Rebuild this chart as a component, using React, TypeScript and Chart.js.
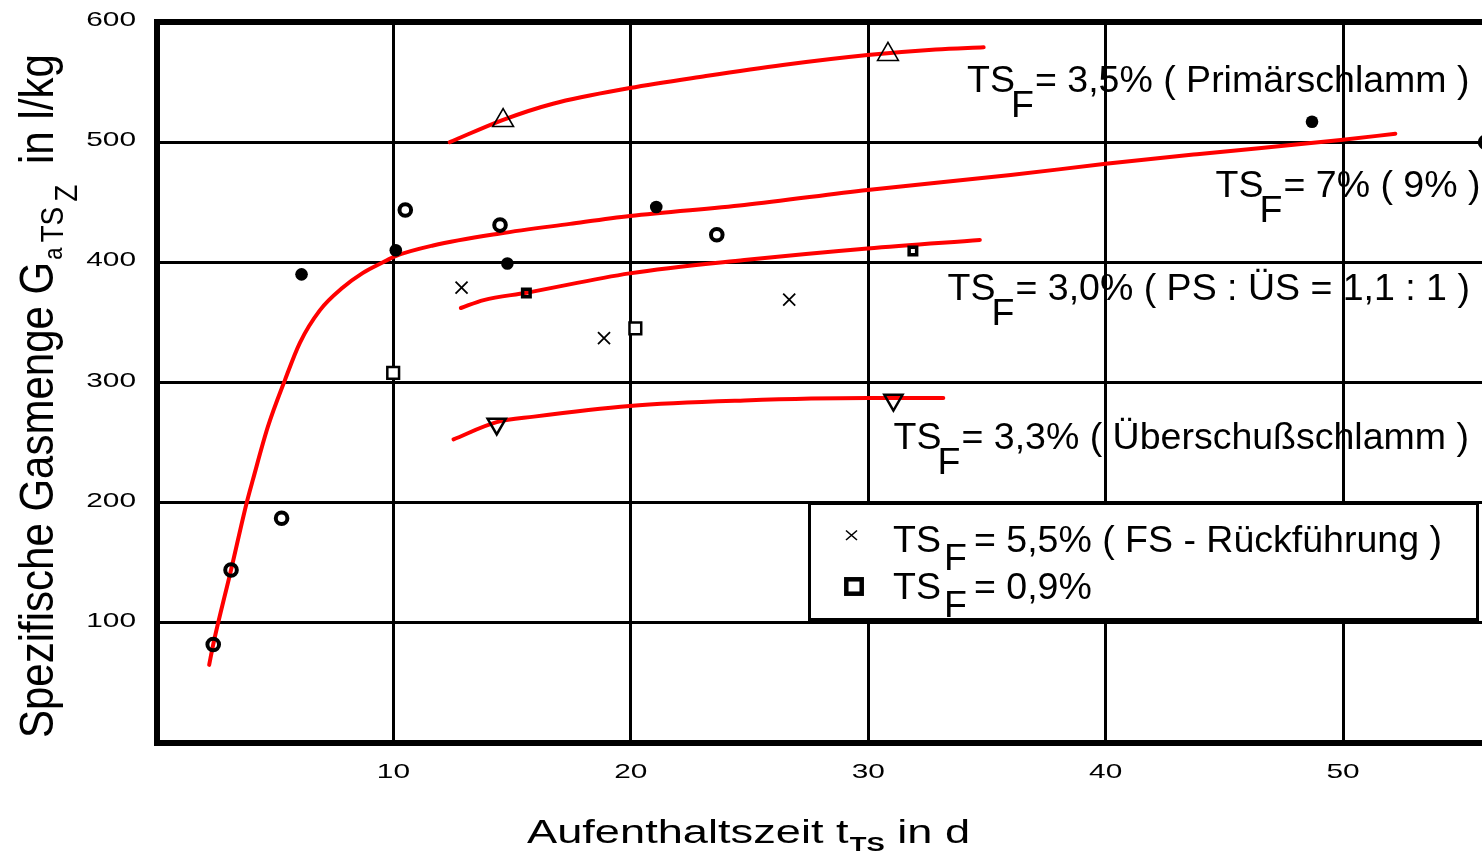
import React, { useEffect, useRef } from "react";
import { Chart, registerables } from "chart.js";

Chart.register(...registerables);

// ---- axis ticks ----
const xTicks = [10, 20, 30, 40, 50];
const yTicks = [100, 200, 300, 400, 500, 600];

// ---- red fitted curves ----
const curvePrimaerX = [12.37, 14.62, 16.72, 19.95, 23.16, 26.4, 29.97, 32.84, 34.86];
const curvePrimaerY = [500, 518.6, 532, 545, 555, 564.2, 572.5, 577.2, 579];

const curve7X = [2.24, 2.41, 3.16, 3.82, 4.08, 4.71, 5.43, 6.06, 6.9, 7.87, 8.7, 9.56, 10.06, 11.67, 14.49, 17.44, 19.96, 24.78, 29.97, 36.0, 40.0, 43.85, 49.9, 52.2];
const curve7Y = [65, 82, 144, 200, 219, 263, 302, 333, 360, 379, 391, 400, 405, 414, 424, 432, 438.5, 447.7, 460.2, 472.6, 482, 490, 501.8, 507];

const curve30X = [12.84, 13.8, 15.6, 19.95, 24.78, 29.97, 34.7];
const curve30Y = [362, 368.6, 374.7, 390.8, 401.9, 411.6, 418.6];

const curve33X = [12.53, 14.35, 15.92, 19.95, 24.78, 29.97, 33.16];
const curve33Y = [252.7, 267, 271.6, 280.5, 285, 287, 287];

// ---- measured points ----
const filledX = [6.13, 10.1, 14.8, 21.07, 48.69];
const filledY = [390, 410, 399, 446, 517];

const ringX = [2.41, 3.16, 5.29, 10.5, 14.49, 23.62, 56.0];
const ringY = [82, 144, 187, 443.5, 431, 423, 500];

const crossX = [12.87, 18.87, 26.67];
const crossY = [379, 337, 369];

const squareX = [9.99, 20.19];
const squareY = [308, 345];

const smallSquareX = [15.6, 31.88];
const smallSquareY = [374.5, 409.5];

const triUpX = [14.62, 30.83];
const triUpY = [518, 573];

const triDownX = [14.35, 31.06];
const triDownY = [265.5, 285.4];

// ---- text ----
const annotations = [
  { label: "= 3,5% ( Primärschlamm )", x: 967, y: 92 },
  { label: "= 7% ( 9% )", x: 1215.5, y: 197 },
  { label: "= 3,0% ( PS : ÜS = 1,1 : 1 )", x: 947.5, y: 300 },
  { label: "= 3,3% ( Überschußschlamm )", x: 893.5, y: 449 },
];
const legendRows = ["= 5,5% ( FS - Rückführung )", "= 0,9%"];

const pts = (xs: number[], ys: number[]) => xs.map((x, i) => ({ x, y: ys[i] }));

const FONT = '"Liberation Sans", Arial, Helvetica, sans-serif';

function drawText(
  ctx: CanvasRenderingContext2D,
  s: string,
  x: number,
  y: number,
  size: number,
  sx = 1,
  sy = 1,
  bold = false,
  align: "left" | "right" | "center" = "left"
) {
  ctx.save();
  ctx.font = `${bold ? "bold " : ""}${size}px ${FONT}`;
  ctx.textBaseline = "alphabetic";
  ctx.textAlign = "left";
  ctx.fillStyle = "#000";
  const w = ctx.measureText(s).width * sx;
  let x0 = x;
  if (align === "right") x0 = x - w;
  else if (align === "center") x0 = x - w / 2;
  ctx.translate(x0, y);
  ctx.scale(sx, sy);
  ctx.fillText(s, 0, 0);
  ctx.restore();
  return w;
}

const framePlugin = {
  id: "frame",
  beforeDatasetsDraw(chart: any) {
    const ctx = chart.ctx as CanvasRenderingContext2D;
    const a = chart.chartArea;
    ctx.save();
    ctx.strokeStyle = "#000";
    ctx.lineWidth = 6;
    ctx.lineCap = "butt";
    ctx.beginPath();
    ctx.moveTo(a.left + 1, a.top - 3);
    ctx.lineTo(a.left + 1, a.bottom + 3);
    ctx.moveTo(a.left - 2, a.top);
    ctx.lineTo(chart.width + 5, a.top);
    ctx.moveTo(a.left - 2, a.bottom);
    ctx.lineTo(chart.width + 5, a.bottom);
    ctx.stroke();
    ctx.restore();
  },
  afterDraw(chart: any) {
    const ctx = chart.ctx as CanvasRenderingContext2D;
    const xs = chart.scales.x;
    const ys = chart.scales.y;

    // tick labels
    yTicks.forEach((v) => {
      drawText(ctx, String(v), 136, ys.getPixelForValue(v) + 4, 21, 1.42, 1, false, "right");
    });
    xTicks.forEach((v) => {
      drawText(ctx, String(v), xs.getPixelForValue(v), 778, 21, 1.42, 1, false, "center");
    });

    // x title
    let p = 527;
    p += drawText(ctx, "Aufenthaltszeit t", p, 843, 33, 1.37);
    p += 1;
    p += drawText(ctx, "TS", p, 851, 20, 1.37, 1, true);
    drawText(ctx, " in d", p, 843, 33, 1.37);

    // y title (rotated)
    ctx.save();
    ctx.translate(53, 738);
    ctx.rotate(-Math.PI / 2);
    let q = 0;
    q += drawText(ctx, "Spezifische Gasmenge G", q, 0, 42, 1, 1.14);
    q += 2;
    q += drawText(ctx, "a", q, 9, 22, 1, 1.14);
    q += 5;
    q += drawText(ctx, "TS", q, 10, 28, 1, 1.14);
    q += 5;
    q += drawText(ctx, "Z", q, 24, 28, 1, 1.14);
    q += 9;
    drawText(ctx, " in l/kg", q, 0, 42, 1, 1.14);
    ctx.restore();

    // annotations
    annotations.forEach((an) => {
      drawText(ctx, "TS", an.x, an.y, 37.5);
      drawText(ctx, "F", an.x + 44, an.y + 24.5, 37.5);
      drawText(ctx, an.label, an.x + 68, an.y, 37.5);
    });

    // legend box
    ctx.save();
    ctx.fillStyle = "#fff";
    ctx.fillRect(809, 503, 669, 117);
    ctx.strokeStyle = "#000";
    ctx.lineWidth = 3;
    ctx.strokeRect(809.5, 503.5, 668, 116);
    // x marker
    ctx.lineWidth = 1.6;
    ctx.beginPath();
    ctx.moveTo(846, 530.5);
    ctx.lineTo(857, 540);
    ctx.moveTo(846, 540);
    ctx.lineTo(857, 530.5);
    ctx.stroke();
    // square marker
    ctx.lineWidth = 4.5;
    ctx.strokeRect(846.3, 579.3, 15.4, 14.4);
    ctx.restore();

    const rowY = [552, 599];
    legendRows.forEach((t, i) => {
      drawText(ctx, "TS", 893, rowY[i], 37.5);
      drawText(ctx, "F", 944, rowY[i] + 18, 37.5);
      drawText(ctx, t, 974, rowY[i], 37.5);
    });
  },
};

export default function App() {
  const ref = useRef<HTMLCanvasElement | null>(null);

  useEffect(() => {
    if (!ref.current) return;
    const curve = (xs: number[], ys: number[]) => ({
      data: pts(xs, ys),
      showLine: true,
      borderColor: "#ff0000",
      borderWidth: 4,
      borderCapStyle: "round" as const,
      borderJoinStyle: "round" as const,
      pointRadius: 0,
      cubicInterpolationMode: "monotone" as const,
      order: 2,
    });
    const marker = (xs: number[], ys: number[], o: any) => ({
      data: pts(xs, ys),
      showLine: false,
      borderColor: "#000",
      order: 1,
      clip: false,
      ...o,
    });

    const chart = new Chart(ref.current, {
      type: "scatter",
      data: {
        datasets: [
          curve(curvePrimaerX, curvePrimaerY),
          curve(curve7X, curve7Y),
          curve(curve30X, curve30Y),
          curve(curve33X, curve33Y),
          marker(filledX, filledY, { pointStyle: "circle", pointRadius: 6.3, pointBackgroundColor: "#000", pointBorderWidth: 0 }),
          marker(ringX, ringY, { pointStyle: "circle", pointRadius: 5.8, pointBackgroundColor: "rgba(0,0,0,0)", pointBorderColor: "#000", pointBorderWidth: 4 }),
          marker(crossX, crossY, { pointStyle: "crossRot", pointRadius: 8.5, pointBorderColor: "#000", pointBorderWidth: 1.8 }),
          marker(squareX, squareY, { pointStyle: "rect", pointRadius: 8.3, pointBackgroundColor: "#fff", pointBorderColor: "#000", pointBorderWidth: 2.5 }),
          marker(smallSquareX, smallSquareY, { pointStyle: "rect", pointRadius: 5.3, pointBackgroundColor: "rgba(0,0,0,0)", pointBorderColor: "#000", pointBorderWidth: 3.5 }),
          marker(triUpX, triUpY, { pointStyle: "triangle", pointRadius: 12, pointBackgroundColor: "rgba(0,0,0,0)", pointBorderColor: "#000", pointBorderWidth: 1.6 }),
          marker(triDownX, triDownY, { pointStyle: "triangle", pointRotation: 180, pointRadius: 10.5, pointBackgroundColor: "rgba(0,0,0,0)", pointBorderColor: "#000", pointBorderWidth: 2.5 }),
        ],
      },
      options: {
        animation: false,
        responsive: false,
        devicePixelRatio: 1,
        layout: { autoPadding: false, padding: { left: 0, top: 22, right: 0, bottom: 0 } },
        plugins: { legend: { display: false }, tooltip: { enabled: false } },
        scales: {
          x: {
            type: "linear",
            min: 0,
            max: 55.85,
            ticks: { display: false, stepSize: 10, includeBounds: false },
            grid: { color: "#000", lineWidth: 3, drawTicks: false },
            border: { display: false },
            afterFit: (s: any) => {
              s.height = 110;
            },
          },
          y: {
            type: "linear",
            min: 0,
            max: 600,
            ticks: { display: false, stepSize: 100 },
            grid: { color: "#000", lineWidth: 3, drawTicks: false },
            border: { display: false },
            afterFit: (s: any) => {
              s.width = 156;
            },
          },
        },
      },
      plugins: [framePlugin],
    });
    return () => chart.destroy();
  }, []);

  return (
    <div style={{ position: "fixed", left: 0, top: 0, width: 1482, height: 853, background: "#fff", overflow: "hidden" }}>
      <canvas ref={ref} width={1482} height={853} style={{ display: "block", width: 1482, height: 853 }} />
    </div>
  );
}
